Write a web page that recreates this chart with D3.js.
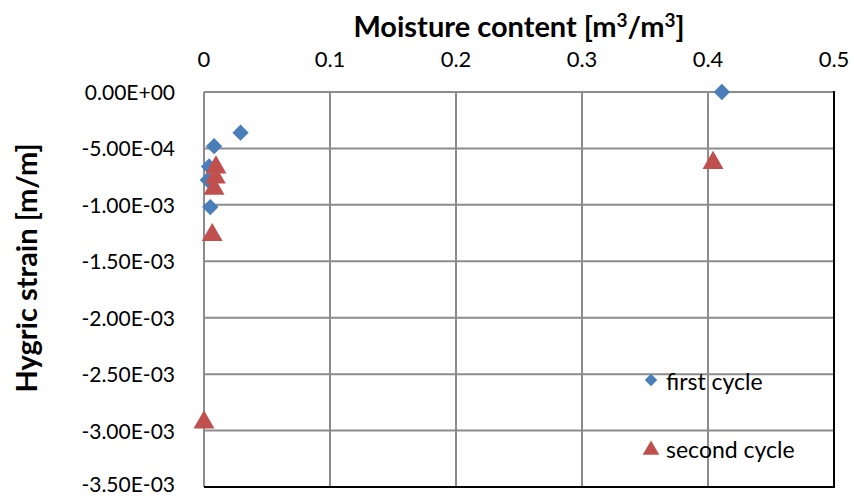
<!DOCTYPE html>
<html lang="en">
<head>
  <meta charset="UTF-8">
  <script src="https://d3js.org/d3.v7.min.js"></script>
  <style>
    body { margin: 0; background: white; }
    text { font-family: Lato, "Open Sans", sans-serif; fill: #000; }
    .grid line { stroke: #8c8c8c; stroke-width: 2px; }
  </style>
</head>
<body>
  <svg width="854" height="498"></svg>
  <script>
    // data
    var xTicks = [0, 0.1, 0.2, 0.3, 0.4, 0.5];
    var yTicks = [0, -0.0005, -0.001, -0.0015, -0.002, -0.0025, -0.003, -0.0035];
    var yTickLabels = ["0.00E+00", "-5.00E-04", "-1.00E-03", "-1.50E-03", "-2.00E-03", "-2.50E-03", "-3.00E-03", "-3.50E-03"];

    var firstX = [0.411, 0.029, 0.008, 0.004, 0.003, 0.005];
    var firstY = [0, -0.00036, -0.00048, -0.00066, -0.00078, -0.00102];

    var secondX = [0.404, 0.0095, 0.009, 0.008, 0.0065, 0.0];
    var secondY = [-0.00061, -0.00065, -0.00074, -0.00084, -0.00125, -0.00291];

    var seriesNames = ["first cycle", "second cycle"];

    var svg = d3.select("svg");

    var x = d3.scaleLinear().domain([0, 0.5]).range([204, 834]);
    var y = d3.scaleLinear().domain([0, -0.0035]).range([92, 487]);

    // gridlines
    var grid = svg.append("g").attr("class", "grid");
    grid.selectAll(".h").data(yTicks).enter().append("line")
      .attr("x1", x(0)).attr("x2", x(0.5))
      .attr("y1", d => y(d)).attr("y2", d => y(d));
    grid.selectAll(".v").data(xTicks).enter().append("line")
      .attr("x1", d => x(d)).attr("x2", d => x(d))
      .attr("y1", y(0)).attr("y2", y(-0.0035));

    // right and bottom border in black
    svg.append("line").attr("x1", x(0.5)).attr("x2", x(0.5))
      .attr("y1", y(0) - 1).attr("y2", y(-0.0035) + 1)
      .attr("stroke", "#000").attr("stroke-width", 2);
    svg.append("line").attr("x1", x(0)).attr("x2", x(0.5) + 1)
      .attr("y1", y(-0.0035)).attr("y2", y(-0.0035))
      .attr("stroke", "#000").attr("stroke-width", 2);

    // x tick labels on top
    svg.selectAll(".xl").data(xTicks).enter().append("text")
      .attr("x", d => x(d)).attr("y", 67)
      .attr("text-anchor", "middle")
      .style("font-size", "22px")
      .text(d => d === 0 ? "0" : d3.format(".1f")(d));

    // y tick labels
    svg.selectAll(".yl").data(yTicks).enter().append("text")
      .attr("x", 175).attr("y", d => Math.min(y(d) + 8, 492))
      .attr("text-anchor", "end")
      .style("font-size", "21px")
      .text((d, i) => yTickLabels[i]);

    // axis titles
    var t = svg.append("text")
      .attr("x", 519).attr("y", 37)
      .attr("text-anchor", "middle")
      .style("font-size", "29px").style("font-weight", "bold")
      .text("Moisture content [m");
    t.append("tspan").attr("dy", -10).style("font-size", "19px").text("3");
    t.append("tspan").attr("dy", 10).text("/m");
    t.append("tspan").attr("dy", -10).style("font-size", "19px").text("3");
    t.append("tspan").attr("dy", 10).text("]");

    svg.append("text")
      .attr("transform", "translate(37,268) rotate(-90)")
      .attr("text-anchor", "middle")
      .style("font-size", "29px").style("font-weight", "bold")
      .text("Hygric strain [m/m]");

    var diamond = d3.symbol().type(d3.symbolDiamond2).size(170);
    var triangle = d3.symbol().type(d3.symbolTriangle).size(190);

    var first = firstX.map((v, i) => ({ x: v, y: firstY[i] }));
    var second = secondX.map((v, i) => ({ x: v, y: secondY[i] }));

    svg.selectAll(".p1").data(first).enter().append("path")
      .attr("d", diamond)
      .attr("fill", "#4a7ebb")
      .attr("transform", d => "translate(" + x(d.x) + "," + y(d.y) + ")");

    svg.selectAll(".p2").data(second).enter().append("path")
      .attr("d", triangle)
      .attr("fill", "#c0504d")
      .attr("transform", d => "translate(" + x(d.x) + "," + (y(d.y) + 2) + ")");

    // legend
    var legend = svg.append("g");
    legend.append("path").attr("d", d3.symbol().type(d3.symbolDiamond2).size(100))
      .attr("fill", "#4a7ebb").attr("transform", "translate(651,380)");
    legend.append("text").attr("x", 666).attr("y", 390)
      .style("font-size", "23px").text(seriesNames[0]);
    legend.append("path").attr("d", d3.symbol().type(d3.symbolTriangle).size(120))
      .attr("fill", "#c0504d").attr("transform", "translate(651,450)");
    legend.append("text").attr("x", 666).attr("y", 458)
      .style("font-size", "23px").text(seriesNames[1]);
  </script>
</body>
</html>
